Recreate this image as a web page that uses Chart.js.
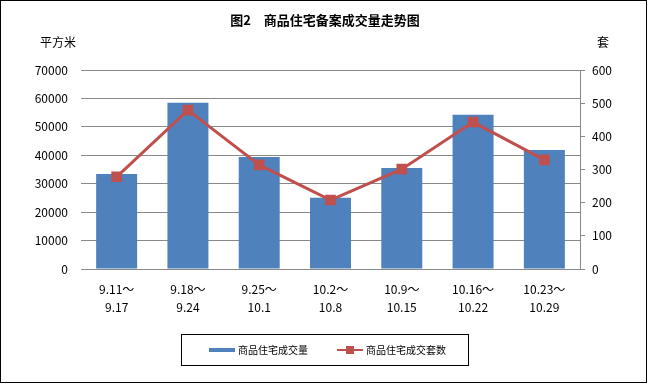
<!DOCTYPE html>
<html>
<head>
<meta charset="utf-8">
<script src="https://cdn.jsdelivr.net/npm/chart.js@4"></script>
<style>
  body { margin: 0; background: #fff; }
</style>
</head>
<body>
<canvas id="grafico" width="648" height="385"></canvas>
<script>
const periodos = [['9.11～', '9.17'], ['9.18～', '9.24'], ['9.25～', '10.1'], ['10.2～', '10.8'], ['10.9～', '10.15'], ['10.16～', '10.22'], ['10.23～', '10.29']]
const areaVendida = [33400, 58500, 39400, 25100, 35500, 54300, 41900]
const unidadesVendidas = [278, 479, 314, 208, 301, 443, 329]
const ticksArea = [0, 10000, 20000, 30000, 40000, 50000, 60000, 70000]
const ticksUnidades = [0, 100, 200, 300, 400, 500, 600]

const titulo = '图2　商品住宅备案成交量走势图'
const unidadIzq = '平方米'
const unidadDer = '套'
const nombreBarras = '商品住宅成交量'
const nombreLinea = '商品住宅成交套数'

const fuente = '"Noto Sans CJK SC", "Liberation Sans", sans-serif'
const azul = '#4F81BD'
const rojo = '#C0504D'
const gris = '#898989'

// textos fijos, leyenda y borde exterior
const decoracion = {
  id: 'decoracion',
  afterDraw(chart) {
    const ctx = chart.ctx
    ctx.save()
    ctx.strokeStyle = '#000'
    ctx.lineWidth = 1
    ctx.strokeRect(0.5, 0.5, 646, 382)

    ctx.fillStyle = '#000'
    ctx.textBaseline = 'middle'
    ctx.font = 'bold 13px ' + fuente
    ctx.textAlign = 'center'
    ctx.fillText(titulo, 325, 20)
    ctx.font = '12px ' + fuente
    ctx.textAlign = 'left'
    ctx.fillText(unidadIzq, 40, 42)
    ctx.fillText(unidadDer, 597, 42)

    // leyenda
    ctx.strokeRect(181.5, 334.5, 287, 31)
    ctx.fillStyle = azul
    ctx.fillRect(209, 348, 26, 4)
    ctx.strokeStyle = rojo
    ctx.lineWidth = 2
    ctx.beginPath()
    ctx.moveTo(337, 350)
    ctx.lineTo(363, 350)
    ctx.stroke()
    ctx.fillStyle = rojo
    ctx.fillRect(346, 346, 8, 8)
    ctx.fillStyle = '#000'
    ctx.font = '10px ' + fuente
    ctx.fillText(nombreBarras, 238, 350)
    ctx.fillText(nombreLinea, 366, 350)
    ctx.restore()
  }
}

new Chart(document.querySelector('#grafico'), {
  type: 'bar',
  data: {
    labels: periodos,
    datasets: [{
      type: 'line',
      label: nombreLinea,
      data: unidadesVendidas,
      yAxisID: 'yDer',
      borderColor: rojo,
      borderWidth: 3,
      backgroundColor: rojo,
      pointStyle: 'rect',
      pointRadius: 7.5,
      pointBorderWidth: 0,
      tension: 0,
      order: 0
    }, {
      label: nombreBarras,
      data: areaVendida,
      yAxisID: 'yIzq',
      backgroundColor: azul,
      barPercentage: 0.575,
      categoryPercentage: 1,
      order: 1
    }]
  },
  options: {
    responsive: false,
    animation: false,
    devicePixelRatio: 1,
    layout: { padding: { top: 70, left: 0, right: 0, bottom: 0 } },
    plugins: {
      legend: { display: false },
      title: { display: false },
      tooltip: { enabled: false }
    },
    scales: {
      x: {
        afterFit: (s) => { s.height = 116 },
        grid: { display: false, drawTicks: false },
        border: { display: true, color: gris },
        ticks: { color: '#000', padding: 11, font: { family: fuente, size: 12, lineHeight: 1.5 }, maxRotation: 0 }
      },
      yIzq: {
        position: 'left',
        min: 0,
        max: 70000,
        afterFit: (s) => { s.width = 81 },
        afterBuildTicks: (s) => { s.ticks = ticksArea.map(v => ({ value: v })) },
        grid: { color: gris, drawTicks: false },
        border: { display: false },
        ticks: { color: '#000', padding: 13, font: { family: fuente, size: 12 }, callback: (v) => String(v) }
      },
      yDer: {
        position: 'right',
        min: 0,
        max: 600,
        afterFit: (s) => { s.width = 68 },
        afterBuildTicks: (s) => { s.ticks = ticksUnidades.map(v => ({ value: v })) },
        grid: { drawOnChartArea: false, color: gris, tickLength: 5 },
        border: { display: true, color: gris },
        ticks: { color: '#000', padding: 7, font: { family: fuente, size: 12 }, callback: (v) => String(v) }
      }
    }
  },
  plugins: [decoracion]
})
</script>
</body>
</html>
